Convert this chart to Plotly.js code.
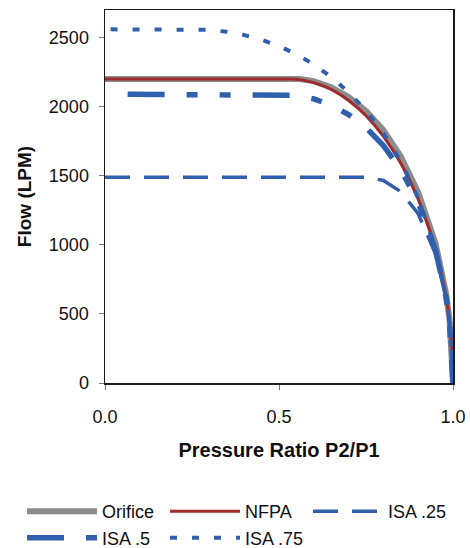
<!DOCTYPE html>
<html>
<head>
<meta charset="utf-8">
<script src="https://cdn.plot.ly/plotly-3.0.1.min.js"></script>
<style>
  html, body { margin: 0; padding: 0; background: #fff; }
  #chart { width: 470px; height: 548px; }
</style>
</head>
<body>
<div id="chart"></div>
<script>
// Pressure ratio P2/P1 (x) and flow in LPM (y)
const orificeX = [0, 0.50, 0.56, 0.60, 0.65, 0.70, 0.75, 0.80, 0.85, 0.90, 0.95, 0.98, 0.99, 1.0];
const orificeY = [2200, 2200, 2200, 2185, 2140, 2070, 1970, 1830, 1640, 1380, 1010, 650, 460, 0];

const nfpaX = [0, 0.50, 0.53, 0.55, 0.60, 0.65, 0.70, 0.75, 0.80, 0.85, 0.90, 0.95, 0.98, 0.99, 0.995, 1.0];
const nfpaY = [2200, 2200, 2200, 2198, 2174, 2125, 2045, 1935, 1785, 1590, 1330, 975, 630, 450, 320, 0];

const isa25X = [0, 0.75, 0.80, 0.85, 0.90, 0.95, 0.98, 0.99, 1.0];
const isa25Y = [1490, 1490, 1466, 1385, 1225, 933, 615, 441, 0];

const isa5X = [0.065, 0.50, 0.55, 0.60, 0.65, 0.70, 0.75, 0.80, 0.85, 0.90, 0.95, 0.98, 0.99, 1.0];
const isa5Y = [2090, 2090, 2082, 2057, 2011, 1943, 1848, 1719, 1546, 1309, 959, 619, 440, 0];

const isa75X = [0.016, 0.25, 0.30, 0.35, 0.40, 0.45, 0.50, 0.55, 0.60, 0.65, 0.70, 0.75, 0.80, 0.85, 0.90, 0.95, 0.98, 0.99, 1.0];
const isa75Y = [2560, 2560, 2556, 2542, 2519, 2484, 2439, 2380, 2306, 2215, 2105, 1971, 1807, 1603, 1340, 969, 621, 441, 0];

const seriesNames = ['Orifice', 'NFPA', 'ISA .25', 'ISA .5', 'ISA .75'];
const yTicks = [0, 500, 1000, 1500, 2000, 2500];
const xTicks = [0, 0.5, 1.0];

const BLUE = '#2F5FAD';
const FONT = 'Liberation Sans, Arial, Helvetica, sans-serif';

const traces = [
  { x: orificeX, y: orificeY, name: seriesNames[0], mode: 'lines',
    line: { color: '#8C8C8C', width: 6 } },
  { x: nfpaX, y: nfpaY, name: seriesNames[1], mode: 'lines', line: { color: '#9E2A2B', width: 3, shape: 'spline', smoothing: 0.6 } },
  { x: isa25X, y: isa25Y, name: seriesNames[2], mode: 'lines',
    line: { color: BLUE, width: 3.5, dash: '25px,14px' } },
  { x: isa5X, y: isa5Y, name: seriesNames[3], mode: 'lines',
    line: { color: BLUE, width: 5.5, dash: '37px,22px,11px,22px,11px,22px' } },
  { x: isa75X, y: isa75Y, name: seriesNames[4], mode: 'lines',
    line: { color: BLUE, width: 4, dash: '7px,15px' } }
];

const layout = {
  width: 470, height: 548,
  margin: { l: 105, r: 17, t: 10, b: 165, autoexpand: false },
  paper_bgcolor: '#ffffff', plot_bgcolor: '#ffffff',
  font: { family: FONT, size: 18, color: '#111' },
  showlegend: true,
  xaxis: {
    range: [0, 1], tickvals: xTicks, ticktext: xTicks.map(v => v.toFixed(1)),
    showgrid: false, zeroline: false,
    showline: true, mirror: true, linecolor: '#1a1a1a', linewidth: 1.5,
    ticks: 'outside', ticklen: 5, tickcolor: '#777', tickwidth: 1,
    ticklabelstandoff: 12,
    tickfont: { family: FONT, size: 18, color: '#111' },
    title: { text: 'Pressure Ratio P2/P1', standoff: 17,
      font: { family: FONT, size: 20, color: '#111', weight: 'bold' } }
  },
  yaxis: {
    range: [0, 2700], tickvals: yTicks,
    showgrid: false, zeroline: false,
    showline: true, mirror: true, linecolor: '#1a1a1a', linewidth: 1.5,
    ticks: 'outside', ticklen: 5, tickcolor: '#777', tickwidth: 1,
    ticklabelstandoff: 6,
    tickfont: { family: FONT, size: 18, color: '#111' },
    title: { text: 'Flow (LPM)', standoff: 12,
      font: { family: FONT, size: 19, color: '#111', weight: 'bold' } }
  },
  legend: {
    orientation: 'h', xref: 'paper', yref: 'paper',
    x: -0.2385, xanchor: 'left', y: -0.295, yanchor: 'top',
    itemwidth: 70, entrywidth: 58, entrywidthmode: 'pixels',
    font: { family: FONT, size: 18, color: '#111' },
    bgcolor: 'rgba(0,0,0,0)', traceorder: 'normal'
  }
};

Plotly.newPlot('chart', traces, layout, { staticPlot: true, displayModeBar: false });
</script>
</body>
</html>
